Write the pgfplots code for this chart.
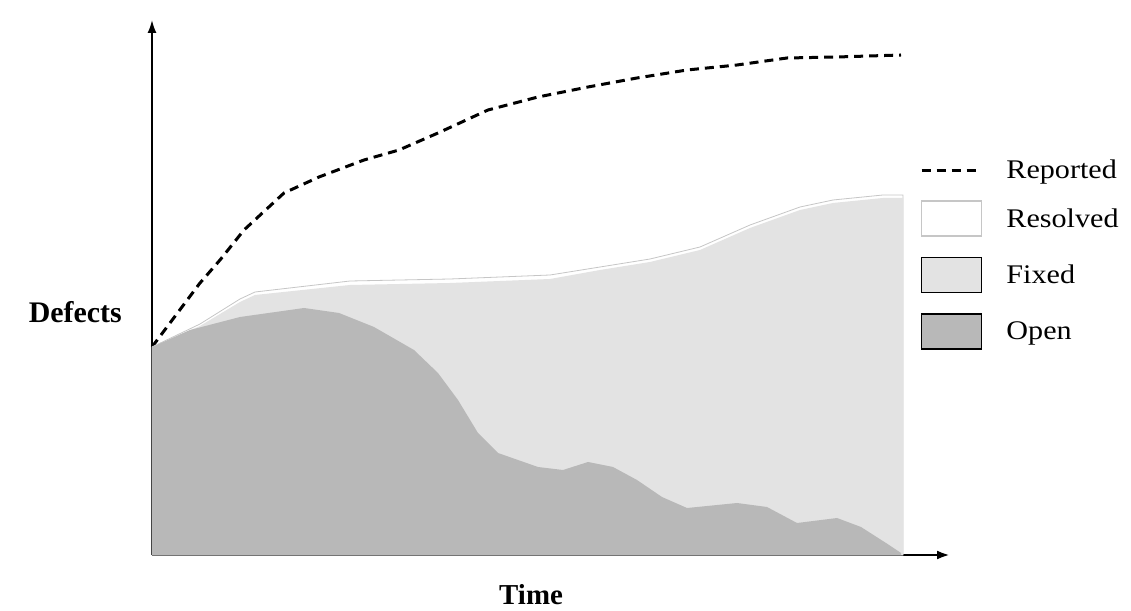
\documentclass[border=0pt]{standalone}
\usepackage{fontspec}
\setmainfont{Liberation Serif}
\newfontfamily\legfont[FakeStretch=1.12]{Liberation Serif}
\usepackage{pgfplots}
\pgfplotsset{compat=1.18}
\usetikzlibrary{arrows.meta}
\definecolor{fixedgray}{gray}{0.89}
\definecolor{opengray}{gray}{0.72}
\begin{document}
\begin{tikzpicture}
\path[use as bounding box] (0,0) rectangle (1131bp,611bp);
\begin{axis}[
  at={(152bp,56bp)}, anchor=south west,
  scale only axis, width=798bp, height=535bp,
  xmin=0, xmax=798, ymin=0, ymax=535,
  axis lines=left,
  axis line style={line width=1.8bp, -{Latex[length=13bp,width=9bp]}},
  x axis line style={line width=2.6bp},
  xtick=\empty, ytick=\empty,
  clip=false,
  xlabel={\fontsize{29}{34}\selectfont\bfseries Time},
  xlabel style={at={(rel axis cs:0.475,0)}, anchor=base, yshift=-49bp, inner sep=0pt},
  ylabel={\fontsize{30}{36}\selectfont\bfseries Defects},
  ylabel style={rotate=-90, at={(rel axis cs:-0.0376,0.4355)}, anchor=base east, inner sep=0pt},
  legend style={at={(axis cs:768,395)}, anchor=north west, draw=none, fill=none,
    inner sep=0pt, row sep=20bp, column sep=24bp, nodes={inner sep=0pt},
    font=\legfont\fontsize{27}{32}\selectfont},
  legend cell align=left,
]
% Reported (cumulative)
\addplot[black, line width=3bp, dash pattern=on 9bp off 6bp,
  legend image code/.code={\draw[line width=3bp, dash pattern=on 9bp off 6bp] (0bp,0bp) -- (58bp,0bp);}]
  coordinates {
  (0,208) (18,232) (48,272) (68,295) (92,325) (132,362) (167,378) (212,395)
  (247,405) (286,422) (336,445) (386,458) (436,468) (485,477) (535,485)
  (585,490) (635,497) (685,498) (749,500)};
\addlegendentry{Reported}
% Resolved
\addplot[fill=white, draw=gray!45, line width=0.8bp,
  legend image code/.code={\draw[line width=1.5bp, fill=white] (0bp,-17.5bp) rectangle (60bp,17.5bp);}]
  coordinates {
  (0,208) (48,231) (88,256) (103,263) (198,274) (298,276) (398,280) (448,288)
  (498,296) (548,308) (598,330) (648,348) (681,355) (731,360) (751,360)} \closedcycle;
\addlegendentry{Resolved}
% Fixed
\addplot[fill=fixedgray, draw=none,
  legend image code/.code={\draw[line width=1.5bp, fill=fixedgray] (0bp,-17.5bp) rectangle (60bp,17.5bp);}]
  coordinates {
  (0,208) (48,229) (88,253) (103,260) (198,270) (298,272) (398,276) (448,285)
  (498,293) (548,305) (598,327) (648,345) (681,352) (731,357) (751,357)} \closedcycle;
\addlegendentry{Fixed}
% Open
\addplot[fill=opengray, draw=none,
  legend image code/.code={\draw[line width=1.5bp, fill=opengray] (0bp,-17.5bp) rectangle (60bp,17.5bp);}]
  coordinates {
  (0,208) (38,225) (88,238) (152,247) (187,242) (222,228) (262,205) (286,182)
  (306,155) (326,122) (346,102) (386,88) (411,85) (436,93) (461,88) (485,75)
  (510,58) (535,47) (585,52) (615,48) (645,32) (685,37) (709,28) (734,12) (749,2)} \closedcycle;
\addlegendentry{Open}
\end{axis}
\end{tikzpicture}
\end{document}
